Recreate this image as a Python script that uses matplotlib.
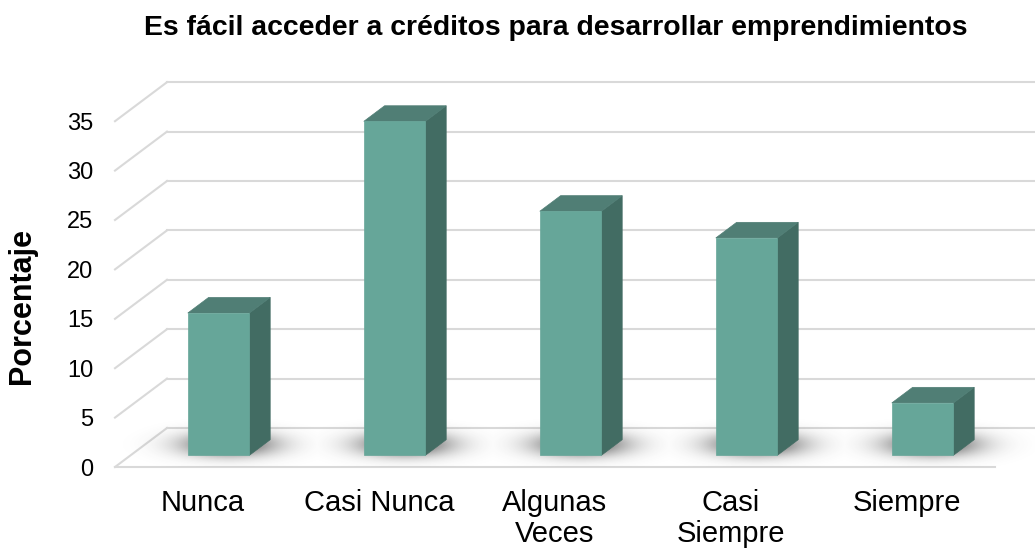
import numpy as np
import matplotlib.pyplot as plt

# --- datos ---
categorias = ["Nunca", "Casi Nunca", "Algunas\nVeces", "Casi\nSiempre", "Siempre"]
porcentajes = [14.4, 33.8, 24.7, 22.0, 5.3]
ticks_y = [0, 5, 10, 15, 20, 25, 30, 35]

titulo = "Es fácil acceder a créditos para desarrollar emprendimientos"
etiqueta_y = "Porcentaje"

# --- colores ---
c_frente = "#66A699"
c_arriba = "#507E75"
c_lado = "#426C63"
c_grid = "#D9D9D9"

plt.rcParams['font.family'] = ['Liberation Sans', 'DejaVu Sans']

W, H = 1035, 550
fig = plt.figure(figsize=(W / 100, H / 100), dpi=100)

# ejes en pixeles: izquierda 115, piso frontal 467, arriba 50
px_x = 176.0   # pixeles por categoria
px_y = 9.88    # pixeles por unidad
ax = fig.add_axes([115 / W, (H - 467) / H, (W - 115) / W, (467 - 50) / H])
ax.set_xlim(0, (W - 115) / px_x)
ax.set_ylim(0, (467 - 50) / px_y)
for s in ax.spines.values():
    s.set_visible(False)

# vector de profundidad (perspectiva oblicua)
DX = 52 / px_x
DY = 39 / px_y
n = len(categorias)


def proy(x, v, d):
    return (x + DX * d, v + DY * d)


# --- rejilla: pared izquierda + pared del fondo ---
for v in ticks_y:
    p0 = proy(0, v, 0)
    p1 = proy(0, v, 1)
    ax.plot([p0[0], p1[0]], [p0[1], p1[1]], color=c_grid, lw=1.5, zorder=1, clip_on=False)
    ax.plot([p1[0], p1[0] + n], [p1[1], p1[1]], color=c_grid, lw=1.5, zorder=1, clip_on=False)
# linea frontal del piso
ax.plot([0, n], [0, 0], color=c_grid, lw=1.5, zorder=1, clip_on=False)

# --- sombras suaves en el piso ---
d0, d1 = 0.3, 0.7
ancho = 0.35
gx = np.linspace(0, n + DX, 900)
gy = np.linspace(-1, 6, 200)
GX, GY = np.meshgrid(gx, gy)
alfa = np.zeros_like(GX)
for i in range(n):
    cx, cy = proy(i + 0.5, 0, 0.5)
    cy = cy + 0.3
    g = np.exp(-(((GX - cx) / 0.185) ** 2) / 2 - ((GY - cy) / 0.85) ** 2 / 2)
    alfa = np.maximum(alfa, g)
img = np.zeros(GX.shape + (4,))
img[..., :3] = 0.22
img[..., 3] = 0.85 * alfa
ax.imshow(img, extent=[gx[0], gx[-1], gy[0], gy[-1]], origin='lower',
          aspect='auto', interpolation='bilinear', zorder=2)

# --- barras 3D ---
for i, h in enumerate(porcentajes):
    xl = i + 0.5 - ancho / 2
    xr = i + 0.5 + ancho / 2
    frente = [proy(xl, 0, d0), proy(xr, 0, d0), proy(xr, h, d0), proy(xl, h, d0)]
    lado = [proy(xr, 0, d0), proy(xr, 0, d1), proy(xr, h, d1), proy(xr, h, d0)]
    arriba = [proy(xl, h, d0), proy(xr, h, d0), proy(xr, h, d1), proy(xl, h, d1)]
    ax.add_patch(plt.Polygon(lado, closed=True, fc=c_lado, ec=c_lado, lw=0.5, zorder=3))
    ax.add_patch(plt.Polygon(arriba, closed=True, fc=c_arriba, ec=c_arriba, lw=0.5, zorder=3))
    ax.add_patch(plt.Polygon(frente, closed=True, fc=c_frente, ec=c_frente, lw=0.5, zorder=4))

# --- ejes / textos ---
ax.set_yticks(ticks_y)
ax.set_xticks([i + 0.5 for i in range(n)])
ax.set_xticklabels(categorias, fontsize=21, linespacing=1.12)
ax.set_yticklabels([str(t) for t in ticks_y], fontsize=17)
ax.tick_params(axis='y', length=0, pad=15.8)
ax.tick_params(axis='x', length=0, pad=16)

fig.text(556 / W, 1 - 35 / H, titulo, fontsize=20.4, fontweight='bold',
         ha='center', va='baseline')
fig.text(22 / W, 1 - 306 / H, etiqueta_y, fontsize=22, fontweight='bold',
         rotation=90, ha='center', va='center')

fig.savefig("out.png", dpi=100, facecolor='white')
